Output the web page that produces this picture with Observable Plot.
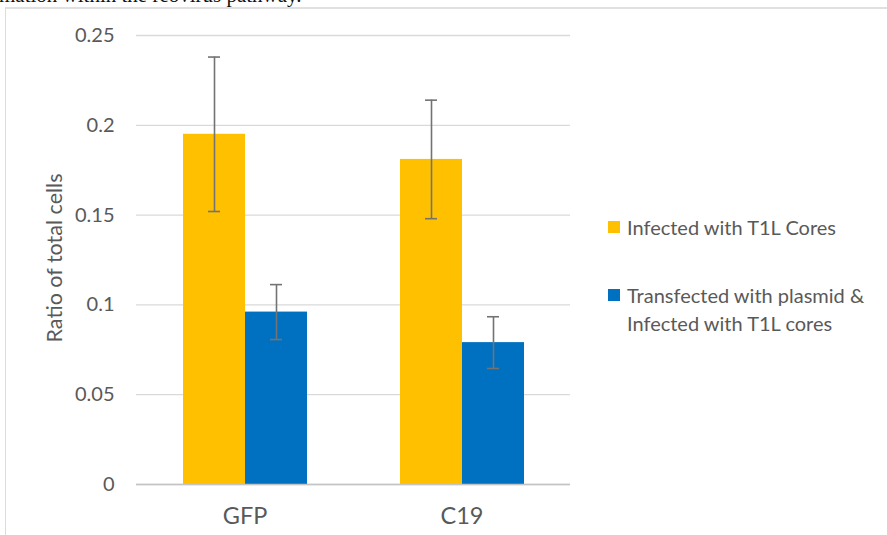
<!DOCTYPE html>
<html>
<head>
<meta charset="utf-8">
<script src="https://cdn.jsdelivr.net/npm/d3@7"></script>
<script src="https://cdn.jsdelivr.net/npm/@observablehq/plot@0.6"></script>
<style>
  html, body { margin: 0; padding: 0; background: #fff; }
  #wrap { position: relative; width: 887px; height: 535px; overflow: hidden; background: #fff; }
  #frame { position: absolute; left: 5px; top: 7px; right: -2px; bottom: -2px; border-left: 1px solid #dcdcdc; border-top: 2px solid #e0e0e0; }
  #caption { position: absolute; left: -1px; top: -15px; font-family: "Liberation Serif", serif; font-size: 21px; line-height: 21px; color: #111; white-space: nowrap; }
  #chart { position: absolute; left: 0; top: 0; }
  #ylabel { position: absolute; left: 54px; top: 258px; transform: translate(-50%, -50%) rotate(-90deg); font-family: Lato, sans-serif; font-size: 21.5px; color: #595959; white-space: nowrap; }
  #legend { position: absolute; left: 608px; top: 0; font-family: Lato, sans-serif; font-size: 20px; color: #595959; }
  .item { position: absolute; left: 0; white-space: nowrap; }
  .sw { position: absolute; left: 0; width: 12px; height: 12px; }
  .lab { position: absolute; left: 19px; line-height: 26px; }
</style>
</head>
<body>
<div id="wrap">
  <div id="frame"></div>
  <div id="caption">mation within the reovirus pathway.</div>
  <div id="chart"></div>
  <div id="ylabel"></div>
  <div id="legend"></div>
</div>
<script>
const categories = ["GFP", "C19"];
const series = ["Infected with T1L Cores", "Transfected with plasmid & Infected with T1L cores"];
const legendLines = [["Infected with T1L Cores"], ["Transfected with plasmid &", "Infected with T1L cores"]];
const infectedValues = [0.195, 0.181];
const infectedErrors = [0.043, 0.033];
const transfectedValues = [0.096, 0.079];
const transfectedErrors = [0.0153, 0.0144];
const seriesColors = ["#FFC000", "#0070C0"];
const yTicks = [0, 0.05, 0.1, 0.15, 0.2, 0.25];
const yTickLabels = ["0", "0.05", "0.1", "0.15", "0.2", "0.25"];
const yTitle = "Ratio of total cells";

const seriesValues = [infectedValues, transfectedValues];
const seriesErrors = [infectedErrors, transfectedErrors];
const data = [];
categories.forEach((c, ci) => {
  series.forEach((s, si) => {
    const v = seriesValues[si][ci], e = seriesErrors[si][ci];
    data.push({category: c, series: s, value: v, lo: v - e, hi: v + e});
  });
});

const chart = Plot.plot({
  width: 887,
  height: 535,
  marginLeft: 135,
  marginRight: 317,
  marginTop: 35,
  marginBottom: 51,
  style: {background: "transparent", fontFamily: "Lato, sans-serif", color: "#595959", overflow: "visible"},
  fx: {domain: categories, padding: 0, label: null},
  x: {domain: series, paddingInner: 0, paddingOuter: 0.74, axis: null},
  y: {domain: [0, 0.25]},
  color: {domain: series, range: seriesColors},
  marks: [
    Plot.gridY(yTicks, {stroke: "#d9d9d9", strokeOpacity: 1, strokeWidth: 1.3}),
    Plot.axisY(yTicks, {tickSize: 0, tickPadding: 22, fontSize: 20, line: true, stroke: "#d0d0d0", tickFormat: (d, i) => yTickLabels[i], label: null}),
    Plot.axisFx({anchor: "bottom", tickSize: 0, tickPadding: 23, fontSize: 23.5, label: null}),
    Plot.barY(data, {fx: "category", x: "series", y: "value", fill: "series"}),
    Plot.ruleY([0], {stroke: "#c4c4c4", strokeWidth: 1.5}),
    Plot.ruleX(data, {fx: "category", x: "series", y1: "lo", y2: "hi", stroke: "#737373", strokeWidth: 1.6}),
    Plot.tickY(data, {fx: "category", x: "series", y: "hi", stroke: "#737373", strokeWidth: 1.6, insetLeft: 25, insetRight: 25}),
    Plot.tickY(data, {fx: "category", x: "series", y: "lo", stroke: "#737373", strokeWidth: 1.6, insetLeft: 25, insetRight: 25})
  ]
});
document.getElementById("chart").appendChild(chart);
document.getElementById("ylabel").textContent = yTitle;

const legend = document.getElementById("legend");
const tops = [214, 282];
series.forEach((s, i) => {
  const item = document.createElement("div");
  item.className = "item";
  item.style.top = tops[i] + "px";
  const sw = document.createElement("div");
  sw.className = "sw";
  sw.style.background = seriesColors[i];
  sw.style.top = "7px";
  item.appendChild(sw);
  legendLines[i].forEach((line, li) => {
    const t = document.createElement("div");
    t.className = "lab";
    t.style.top = (li * 28) + "px";
    t.textContent = line;
    item.appendChild(t);
  });
  legend.appendChild(item);
});
</script>
</body>
</html>
